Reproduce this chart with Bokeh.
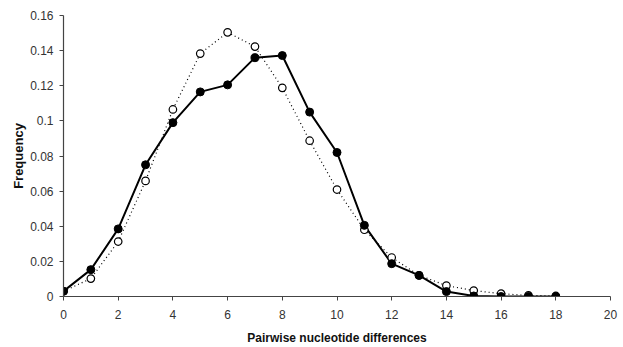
from bokeh.plotting import figure
from bokeh.models import Range1d, FixedTicker
from bokeh.embed import file_html
from bokeh.resources import INLINE

differences = list(range(19))
observed = [0.003, 0.0153, 0.0385, 0.075, 0.099, 0.1165, 0.1205, 0.136, 0.1372, 0.105,
            0.082, 0.0405, 0.0187, 0.012, 0.0028, 0.0003, 0.0, 0.0, 0.0]
expected = [0.003, 0.0102, 0.0313, 0.0658, 0.1065, 0.1383, 0.1504, 0.1423, 0.1188, 0.0887,
            0.0609, 0.038, 0.0222, 0.0121, 0.0062, 0.0034, 0.0016, 0.0006, 0.0003]
x_ticks = list(range(0, 21, 2))
y_ticks = [0, 0.02, 0.04, 0.06, 0.08, 0.1, 0.12, 0.14, 0.16]
y_labels = {0: "0", 0.02: "0.02", 0.04: "0.04", 0.06: "0.06", 0.08: "0.08", 0.1: "0.1",
            0.12: "0.12", 0.14: "0.14", 0.16: "0.16"}

p = figure(width=623, height=347, output_backend="svg", toolbar_location=None,
           x_range=Range1d(0, 20), y_range=Range1d(0, 0.16),
           min_border_left=63, min_border_right=13, min_border_top=15, min_border_bottom=50)
p.outline_line_color = None
p.grid.visible = False
p.background_fill_color = "white"

p.line(differences, expected, line_color="black", line_width=1.2, line_dash="1 3")
p.line(differences, observed, line_color="black", line_width=2)
p.scatter(differences, expected, size=7.5, fill_color="white", line_color="black", line_width=1.2)
p.scatter(differences, observed, size=8, fill_color="black", line_color="black")

for ax in (p.xaxis[0], p.yaxis[0]):
    ax.axis_line_color = "#444444"
    ax.axis_line_width = 1.2
    ax.major_tick_line_color = "#444444"
    ax.major_tick_in = 0
    ax.major_tick_out = 4
    ax.minor_tick_line_color = None
    ax.major_label_text_font = "Liberation Sans"
    ax.major_label_text_font_size = "12px"
    ax.major_label_text_color = "#333333"
    ax.axis_label_text_font = "Liberation Sans"
    ax.axis_label_text_font_style = "bold"
    ax.axis_label_text_color = "#111111"

p.xaxis.axis_label_text_font_size = "12px"
p.yaxis.axis_label_text_font_size = "13px"
p.xaxis.ticker = FixedTicker(ticks=x_ticks)
p.yaxis.ticker = FixedTicker(ticks=y_ticks)
p.yaxis.major_label_overrides = y_labels
p.xaxis.axis_label = "Pairwise nucleotide differences"
p.yaxis.axis_label = "Frequency"
p.xaxis.major_label_standoff = 9
p.yaxis.major_label_standoff = 6
p.xaxis.axis_label_standoff = 9
p.yaxis.axis_label_standoff = 1

open("out.html", "w").write(file_html(p, INLINE))
